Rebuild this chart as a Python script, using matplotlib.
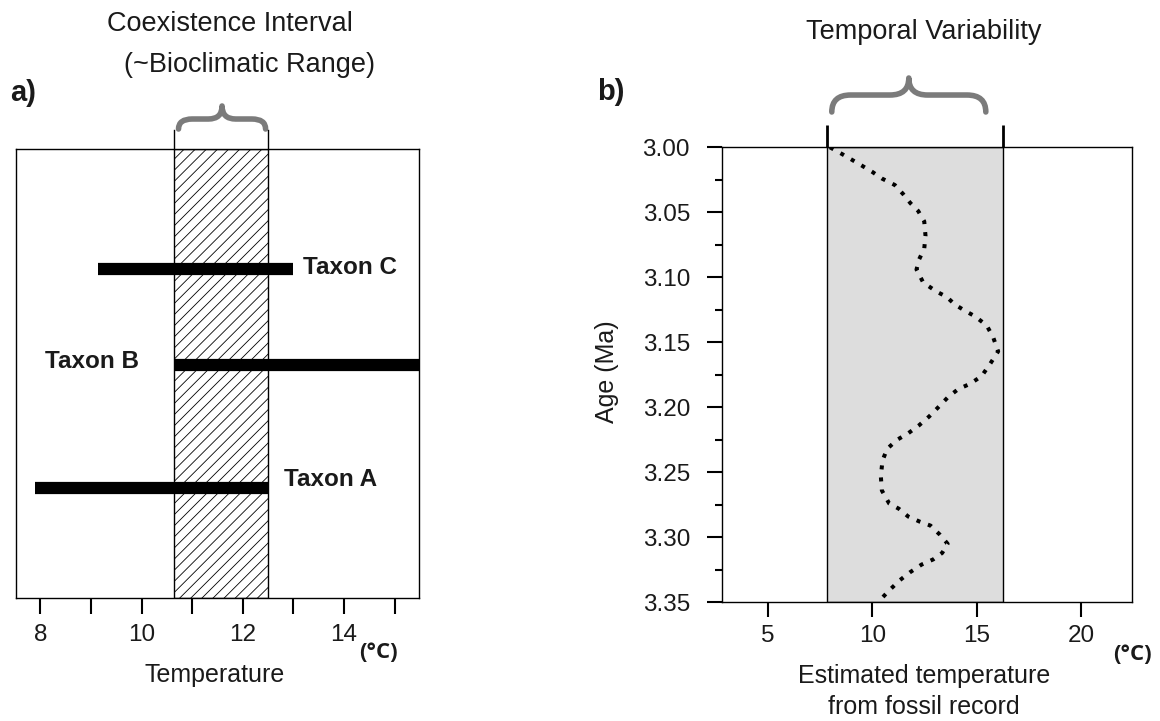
import matplotlib
matplotlib.use("Agg")
import matplotlib.pyplot as plt
from matplotlib.path import Path
from matplotlib.patches import PathPatch
from matplotlib.transforms import blended_transform_factory
import numpy as np

# ---------------- data ----------------
taxa = ["Taxon A", "Taxon B", "Taxon C"]
taxa_low = [7.9, 10.65, 9.13]
taxa_high = [12.5, 15.6, 13.0]
taxa_y = [0.245, 0.518, 0.733]
label_x = [12.81, 8.10, 13.18]
label_y = [0.263, 0.526, 0.737]
coexistence = [10.65, 12.5]

ages = [3.000, 3.005, 3.009, 3.014, 3.019, 3.024, 3.029, 3.036, 3.043, 3.049,
        3.057, 3.068, 3.078, 3.086, 3.094, 3.104, 3.111, 3.115, 3.121, 3.126,
        3.130, 3.137, 3.146, 3.157, 3.166, 3.176, 3.182, 3.186, 3.192, 3.200,
        3.207, 3.214, 3.220, 3.225, 3.232, 3.241, 3.253, 3.264, 3.274, 3.278,
        3.284, 3.288, 3.291, 3.298, 3.305, 3.312, 3.317, 3.321, 3.327, 3.333,
        3.341, 3.347]
temps = [7.97, 8.53, 8.96, 9.49, 10.01, 10.46, 11.08, 11.48, 11.83, 12.20,
         12.49, 12.55, 12.49, 12.25, 12.12, 12.44, 13.08, 13.56, 13.96, 14.47,
         14.92, 15.48, 15.79, 16.03, 15.67, 15.24, 14.68, 14.12, 13.64, 13.16,
         12.73, 12.23, 11.72, 11.19, 10.71, 10.49, 10.41, 10.46, 10.81, 11.27,
         11.72, 12.28, 12.79, 13.24, 13.61, 13.35, 12.92, 12.36, 11.80, 11.32,
         10.80, 10.45]
temporal_range = [7.81, 16.27]

a_xticks = [8, 9, 10, 11, 12, 13, 14, 15]
a_xticklabels = ["8", "", "10", "", "12", "", "14", ""]
b_xticks = [5, 10, 15, 20]
b_yticks = [3.00, 3.05, 3.10, 3.15, 3.20, 3.25, 3.30, 3.35]
b_yminor = [3.025, 3.075, 3.125, 3.175, 3.225, 3.275, 3.325]

# ---------------- style ----------------
plt.rcParams['font.family'] = ['Liberation Sans', 'DejaVu Sans']
plt.rcParams['hatch.linewidth'] = 0.6
TXT = '#1a1a1a'
BRACE = '#7b7b7b'
W, H = 1160, 721

fig = plt.figure(figsize=(W / 100, H / 100), dpi=100)


def fx(x):
    return x / W


def fy(y):
    return 1 - y / H


def brace(ax, x0, x1, xm, ye, yb, yt, c):
    tr = blended_transform_factory(ax.transData, ax.transAxes)
    verts = [(x0, ye), (x0, yb), (x0 + c, yb),
             (xm - c, yb), (xm, yb), (xm, yt),
             (xm, yb), (xm + c, yb),
             (x1 - c, yb), (x1, yb), (x1, ye)]
    codes = [Path.MOVETO, Path.CURVE3, Path.CURVE3,
             Path.LINETO, Path.CURVE3, Path.CURVE3,
             Path.CURVE3, Path.CURVE3,
             Path.LINETO, Path.CURVE3, Path.CURVE3]
    p = PathPatch(Path(verts, codes), transform=tr, fill=False,
                  edgecolor=BRACE, lw=4.0, capstyle='round', joinstyle='round',
                  clip_on=False)
    ax.add_patch(p)


# ---------------- panel a ----------------
axa = fig.add_axes([fx(16), fy(598), fx(419) - fx(16), fy(149) - fy(598)])
axa.set_xlim(7.52, 15.48)
axa.set_ylim(0, 1)
axa.axvspan(coexistence[0], coexistence[1], facecolor='white', edgecolor='black',
            hatch='///', lw=1.0, zorder=1)
axa.hlines(taxa_y, taxa_low, taxa_high, colors='black', lw=8.8, zorder=3)
for name, lx, ly in zip(taxa, label_x, label_y):
    axa.text(lx, ly, name, fontsize=17.5, fontweight='bold', color=TXT,
             ha='left', va='center')
tra = blended_transform_factory(axa.transData, axa.transAxes)
for xv in coexistence:
    axa.plot([xv, xv], [1.0, 1.0423], color='black', lw=1.0, transform=tra,
             clip_on=False)
brace(axa, 10.73, 12.45, (10.73 + 12.45) / 2, 1.0445, 1.0668, 1.0958, 0.27)
axa.set_yticks([])
axa.set_xticks(a_xticks)
axa.set_xticklabels(a_xticklabels)
axa.tick_params(axis='x', length=11.5, width=1.5, pad=7.5, labelsize=17.5,
                labelcolor=TXT)
for s in axa.spines.values():
    s.set_linewidth(1.0)
axa.set_xlabel("Temperature", fontsize=18, color=TXT, va='center')
axa.xaxis.set_label_coords(0.494, -0.1715)

# ---------------- panel b ----------------
axb = fig.add_axes([fx(722), fy(602.3), fx(1131.7) - fx(722), fy(147.3) - fy(602.3)])
axb.set_xlim(2.80, 22.43)
axb.set_ylim(3.35, 3.00)
axb.axvspan(temporal_range[0], temporal_range[1], facecolor='#dddddd',
            edgecolor='black', lw=1.0, zorder=1)
axb.plot(temps, ages, color='black', lw=2.9, linestyle=(0, (1.0, 2.0)),
         dash_capstyle='butt', zorder=3)
trb = blended_transform_factory(axb.transData, axb.transAxes)
for xv in temporal_range:
    axb.plot([xv, xv], [1.0, 1.049], color='black', lw=2.0, transform=trb,
             clip_on=False, solid_capstyle='butt')
brace(axb, 8.06, 15.44, (8.06 + 15.44) / 2, 1.0776, 1.1149, 1.1523, 0.9)
axb.set_xticks(b_xticks)
axb.set_yticks(b_yticks)
axb.set_yticklabels(["%.2f" % v for v in b_yticks])
axb.set_yticks(b_yminor, minor=True)
axb.tick_params(axis='both', which='major', length=11, width=1.5,
                labelsize=17.5, labelcolor=TXT)
axb.tick_params(axis='x', which='major', pad=5.5)
axb.tick_params(axis='y', which='major', pad=12)
axb.tick_params(axis='y', which='minor', length=5, width=1.5)
for s in axb.spines.values():
    s.set_linewidth(1.0)
axb.set_xlabel("Estimated temperature\nfrom fossil record", fontsize=18,
               color=TXT, va='center', linespacing=1.35)
axb.xaxis.set_label_coords(0.493, -0.196)
axb.set_ylabel("Age (Ma)", fontsize=18, color=TXT, va='center')
axb.yaxis.set_label_coords(-0.281, 0.506)

# ---------------- figure texts ----------------
fig.text(fx(230), fy(24), "Coexistence Interval", fontsize=19.5, color=TXT,
         ha='center', va='center')
fig.text(fx(250), fy(65), "(~Bioclimatic Range)", fontsize=19.5, color=TXT,
         ha='center', va='center')
fig.text(fx(924), fy(32), "Temporal Variability", fontsize=19.5, color=TXT,
         ha='center', va='center')
fig.text(fx(10), fy(93), "a)", fontsize=21, fontweight='bold', color=TXT,
         ha='left', va='center')
fig.text(fx(597), fy(92), "b)", fontsize=21, fontweight='bold', color=TXT,
         ha='left', va='center')
fig.text(fx(378), fy(652), "(°C)", fontsize=16, fontweight='bold', color=TXT,
         ha='center', va='center', family=['Open Sans', 'DejaVu Sans'])
fig.text(fx(1132), fy(655), "(°C)", fontsize=16, fontweight='bold', color=TXT,
         ha='center', va='center', family=['Open Sans', 'DejaVu Sans'])

fig.savefig("out.png", dpi=100)
